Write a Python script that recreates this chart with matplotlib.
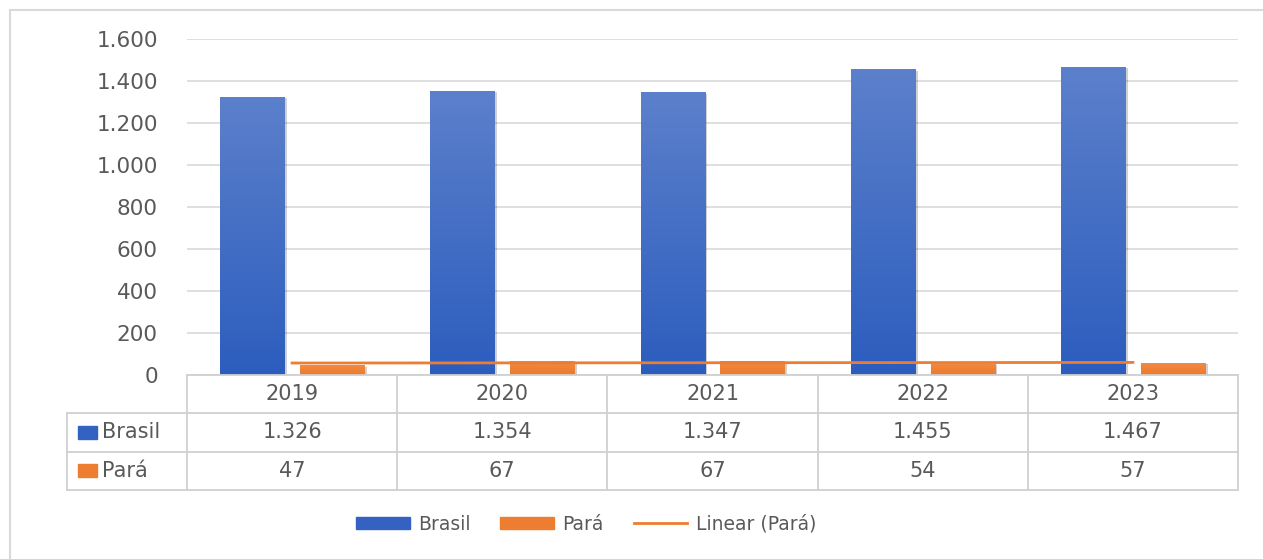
import numpy as np
import matplotlib
matplotlib.use("Agg")
import matplotlib.pyplot as plt
from matplotlib.patches import Rectangle
from matplotlib.lines import Line2D
from matplotlib import patheffects as pe

anos = ["2019", "2020", "2021", "2022", "2023"]
brasil = [1326, 1354, 1347, 1455, 1467]
para = [47, 67, 67, 54, 57]
brasil_txt = ["1.326", "1.354", "1.347", "1.455", "1.467"]
para_txt = ["47", "67", "67", "54", "57"]
yticks = [0, 200, 400, 600, 800, 1000, 1200, 1400, 1600]

W, H = 1263, 559
cinza = "#595959"
azul_top, azul_base = "#5C80CB", "#2C5DBE"
laranja = "#ED7D31"

fig = plt.figure(figsize=(W / 100, H / 100), dpi=100)

# moldura externa (só topo e esquerda visíveis)
fig.add_artist(Line2D([10 / W, 10 / W], [0, 1 - 10 / H], color="#D9D9D9", lw=1.5))
fig.add_artist(Line2D([10 / W, 1], [1 - 10 / H, 1 - 10 / H], color="#D9D9D9", lw=1.5))

x0, x1 = 187, 1238
ytop, ybase = 39, 375
ax = fig.add_axes([x0 / W, 1 - ybase / H, (x1 - x0) / W, (ybase - ytop) / H])
ax.set_xlim(-0.5, 4.5)
ax.set_ylim(0, 1600)
for s in ax.spines.values():
    s.set_visible(False)
ax.set_yticks(yticks)
ax.set_yticklabels([f"{v:,}".replace(",", ".") for v in yticks])
ax.tick_params(axis="y", length=0, pad=21, labelsize=15.5, labelcolor=cinza)
ax.set_xticks([])
ax.grid(axis="y", color="#DCDCDC", lw=1.3)
ax.set_axisbelow(True)

x = np.arange(len(anos))
w = 0.305
grad = np.linspace(0, 1, 256).reshape(-1, 1)
cmap_azul = matplotlib.colors.LinearSegmentedColormap.from_list("az", [azul_base, azul_top])
cmap_lar = matplotlib.colors.LinearSegmentedColormap.from_list("la", ["#EE7A2A", "#F08A45"])

sombra = [pe.SimplePatchShadow(offset=(2, -1), shadow_rgbFace="#000000", alpha=0.18), pe.Normal()]
for xs, vals, cm in [(x - 0.19, brasil, cmap_azul), (x + 0.19, para, cmap_lar)]:
    bars = ax.bar(xs, vals, width=w, color=cm(0.5), zorder=2, path_effects=sombra)
    for b in bars:
        bx, by = b.get_x(), b.get_y()
        bw, bh = b.get_width(), b.get_height()
        im = ax.imshow(grad, cmap=cm, extent=[bx, bx + bw, by, by + bh],
                       origin="lower", aspect="auto", zorder=3)
        im.set_clip_path(b)

# linha de tendência linear (Pará)
coef = np.polyfit(x, para, 1)
ax.plot(x, np.polyval(coef, x), color=laranja, lw=2.0, zorder=4)
ax.set_xlim(-0.5, 4.5)
ax.set_ylim(0, 1600)

# tabela de dados
tb = fig.add_axes([x0 / W, 1 - 490 / H, (x1 - x0) / W, (490 - ybase) / H])
tb.set_xlim(-0.5, 4.5)
tb.set_ylim(3, 0)
tb.axis("off")
lc = "#D0D0D0"
xl = -0.5 - 120 / 210
kw = dict(color=lc, lw=1.3, clip_on=False)
tb.plot([-0.5, 4.5], [0, 0], **kw)
for r in [1, 2, 3]:
    tb.plot([xl, 4.5], [r, r], **kw)
tb.plot([xl, xl], [1, 3], **kw)
for c in np.arange(-0.5, 5, 1):
    tb.plot([c, c], [0, 3], **kw)
for i in range(len(anos)):
    tb.text(x[i], 0.5, anos[i], ha="center", va="center", fontsize=15, color=cinza)
    tb.text(x[i], 1.5, brasil_txt[i], ha="center", va="center", fontsize=15, color=cinza)
    tb.text(x[i], 2.5, para_txt[i], ha="center", va="center", fontsize=15, color=cinza)
for r, nome, cor in [(1.5, "Brasil", "#3462C0"), (2.5, "Pará", laranja)]:
    tb.add_patch(Rectangle((xl + 11 / 210, r - 0.17), 19 / 210, 0.34, color=cor, clip_on=False))
    tb.text(xl + 35 / 210, r, nome, ha="left", va="center", fontsize=15, color=cinza)

# legenda
hs = [Rectangle((0, 0), 1, 1, color="#3462C0"), Rectangle((0, 0), 1, 1, color=laranja),
      Line2D([0], [0], color=laranja, lw=2.0)]
leg = fig.legend(hs, ["Brasil", "Pará", "Linear (Pará)"], ncol=3, frameon=False,
                 loc="center", bbox_to_anchor=(586 / W, 1 - 524 / H), fontsize=13.5,
                 handlelength=2.85, handleheight=0.55, columnspacing=1.6, handletextpad=0.45,
                 borderpad=0, borderaxespad=0)
for t in leg.get_texts():
    t.set_color(cinza)

fig.savefig("out.png", dpi=100)
